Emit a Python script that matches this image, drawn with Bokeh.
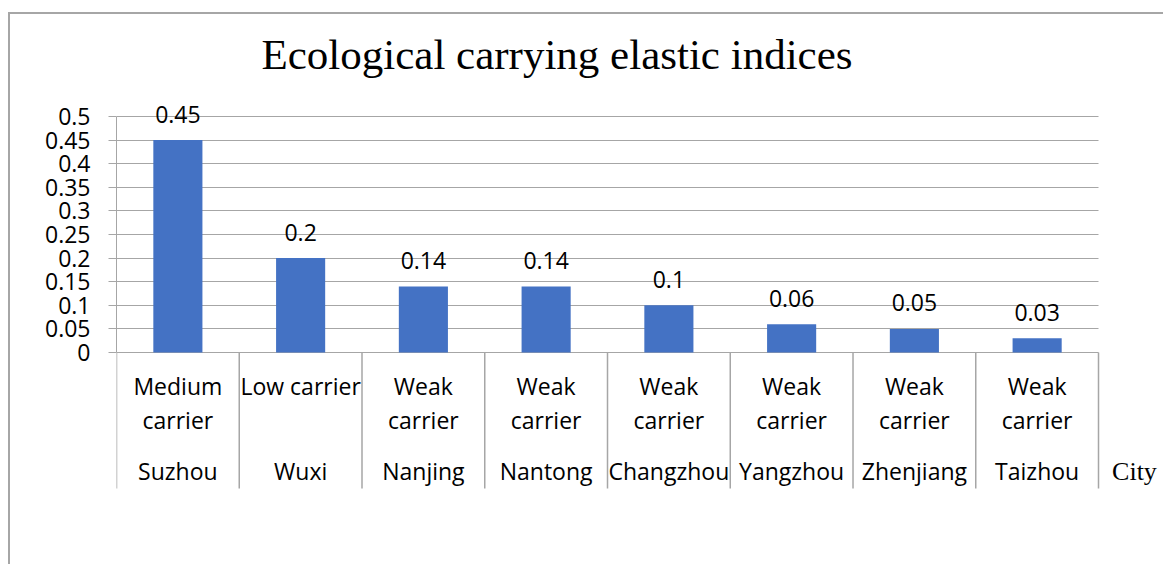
from bokeh.plotting import figure
from bokeh.models import Range1d, FixedTicker
from bokeh.core.properties import value
from bokeh.embed import file_html
from bokeh.resources import INLINE

# ---- data ----
cities = ["Suzhou", "Wuxi", "Nanjing", "Nantong", "Changzhou", "Yangzhou", "Zhenjiang", "Taizhou"]
carrier_labels = ["Medium\ncarrier", "Low carrier", "Weak\ncarrier", "Weak\ncarrier",
                  "Weak\ncarrier", "Weak\ncarrier", "Weak\ncarrier", "Weak\ncarrier"]
indices = [0.45, 0.2, 0.14, 0.14, 0.1, 0.06, 0.05, 0.03]
index_labels = ["0.45", "0.2", "0.14", "0.14", "0.1", "0.06", "0.05", "0.03"]
y_ticks = [0, 0.05, 0.1, 0.15, 0.2, 0.25, 0.3, 0.35, 0.4, 0.45, 0.5]
y_tick_labels = ["0", "0.05", "0.1", "0.15", "0.2", "0.25", "0.3", "0.35", "0.4", "0.45", "0.5"]
title_text = "Ecological carrying elastic indices"
x_title = "City"

FONT = "Open Sans"
SERIF = "Liberation Serif"
GRID = "#a6a6a6"
BAR = "#4472C4"
FS = "23px"

n = len(cities)
xs = [i + 0.5 for i in range(n)]          # category centres
edges = list(range(n + 1))                 # category boundaries

p = figure(x_range=Range1d(0, 8.505), y_range=Range1d(-0.3136, 0.5445),
           width=1163, height=564, output_backend="svg", toolbar_location=None,
           min_border_left=116, min_border_right=3, min_border_top=95, min_border_bottom=64)
# chart-area border (left and top edges) painted behind the transparent canvas margins
p.styles = {"background": "linear-gradient(#a6a6a6,#a6a6a6) 8px 12px / 2px 100% no-repeat, "
                          "linear-gradient(#a6a6a6,#a6a6a6) 8px 12px / 100% 2px no-repeat, #ffffff"}
p.outline_line_color = None
p.background_fill_color = "white"
p.border_fill_alpha = 0

# title
p.title.text = title_text
p.title.text_font = SERIF
p.title.text_font_size = "43px"
p.title.text_font_style = "normal"
p.title.text_color = "black"
p.title.align = "left"
p.title.offset = 145
p.title.standoff = 35

# axes
p.xaxis.visible = False
p.xgrid.visible = False
yax = p.yaxis[0]
yax.ticker = FixedTicker(ticks=y_ticks)
yax.major_label_overrides = {t: l for t, l in zip(y_ticks, y_tick_labels)}
yax.bounds = (0, 0.5)
yax.axis_line_color = GRID
yax.major_tick_line_color = GRID
yax.major_tick_out = 8
yax.major_tick_in = 0
yax.minor_tick_line_color = None
yax.major_label_standoff = 18
yax.major_label_text_font = FONT
yax.major_label_text_font_size = FS
yax.major_label_text_color = "black"

grid = p.ygrid[0]
grid.ticker = FixedTicker(ticks=y_ticks)
grid.grid_line_color = GRID
grid.grid_line_width = 1
if "cross_bounds" in grid.properties():
    grid.cross_bounds = (0, n)
else:
    grid.visible = False
    p.segment(x0=[0] * len(y_ticks), x1=[n] * len(y_ticks), y0=y_ticks, y1=y_ticks,
              line_color=GRID, line_width=1)

# bars
p.vbar(x=xs, top=indices, width=0.4, color=BAR, line_color=None)

# value labels
p.text(x=xs, y=indices, text=index_labels, text_align="center", text_baseline="middle",
       y_offset=-26, text_font=value(FONT), text_font_size=FS, text_color="black")

# category separators
p.segment(x0=edges, x1=edges, y0=[0] * len(edges), y1=[-0.288] * len(edges),
          line_color=GRID, line_width=1.5)

# carrier labels (two lines) and city labels
line1 = [c.split("\n")[0] for c in carrier_labels]
line2 = [c.split("\n")[1] if "\n" in c else "" for c in carrier_labels]
zeros = [0] * n
for txt, off in ((line1, 34), (line2, 68), (cities, 119)):
    p.text(x=xs, y=zeros, text=txt, text_align="center", text_baseline="middle",
           y_offset=off, text_font=value(FONT), text_font_size=FS, text_color="black")

# axis title "City"
p.text(x=[n + 0.293], y=[0], text=[x_title], text_align="center", text_baseline="middle",
       y_offset=119, text_font=value(SERIF), text_font_size="26px", text_color="black")

open("out.html", "w").write(file_html(p, INLINE))
